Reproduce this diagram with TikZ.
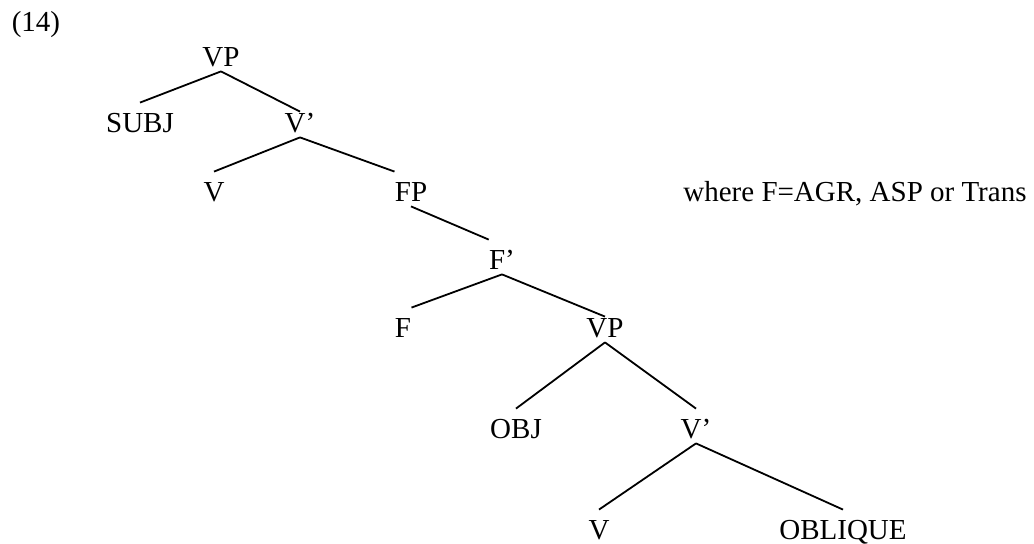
\documentclass[tikz,border=0pt]{standalone}
\usepackage{fontspec}
\setmainfont{Liberation Serif}
\usepackage{tikz}
\usetikzlibrary{positioning}
\tikzstyle{cat} = [inner sep=0pt, text height=15pt, text depth=2pt, anchor=base, font=\fontsize{14.5pt}{17pt}\selectfont]
\tikzstyle{closetop} = [text height=10.5pt]
\tikzstyle{branch} = [line width=0.9pt]

\begin{document}
\begin{tikzpicture}[x=0.5pt, y=-0.5pt]
    \useasboundingbox (0,0) rectangle (1034,544);

    % Example number and note
    \node (num) [cat] at (36,32) {(14)};
    \node (note) [cat, anchor=base west] at (683,202) {where F=AGR, ASP or Trans};

    % Upper VP shell
    \node (vpa) [cat] at (221,67) {VP};
    \node (subj) [cat] at (140,133) {SUBJ};
    \node (vbara) [cat, closetop] at (300,133) {V'};
    \node (va) [cat] at (214,202) {V};
    \node (fp) [cat] at (411,202) {FP};

    % Functional projection
    \node (fbar) [cat] at (502,270) {F'};
    \node (f) [cat] at (403,338) {F};
    \node (vpb) [cat, closetop] at (605,338) {VP};

    % Lower VP shell
    \node (obj) [cat] at (516,439) {OBJ};
    \node (vbarb) [cat] at (696,439) {V'};
    \node (vc) [cat] at (599,540) {V};
    \node (obl) [cat] at (843,540) {OBLIQUE};

    % Branches
    \draw [branch] (vpa.south) -- (subj.north);
    \draw [branch] (vpa.south) -- (vbara.north);
    \draw [branch] (vbara.south) -- (va.north);
    \draw [branch] (vbara.south) -- (fp.north west);
    \draw [branch] (fp.south) -- (fbar.north west);
    \draw [branch] (fbar.south) -- (f.north east);
    \draw [branch] (fbar.south) -- (vpb.north);
    \draw [branch] (vpb.south) -- (obj.north);
    \draw [branch] (vpb.south) -- (vbarb.north);
    \draw [branch] (vbarb.south) -- (vc.north);
    \draw [branch] (vbarb.south) -- (obl.north);
\end{tikzpicture}
\end{document}
